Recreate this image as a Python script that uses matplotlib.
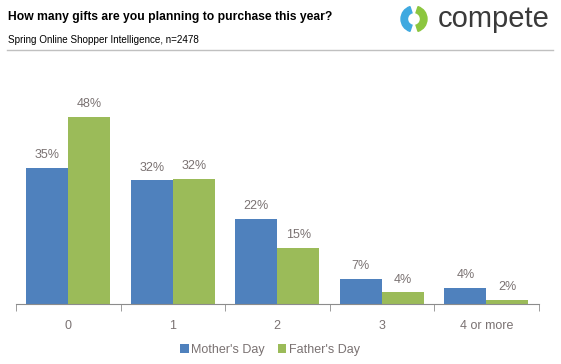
import matplotlib
matplotlib.use('Agg')
import matplotlib.pyplot as plt
from matplotlib.patches import Wedge
import numpy as np

plt.rcParams['font.family'] = ['Liberation Sans', 'DejaVu Sans']

# data
categories = ['0', '1', '2', '3', '4 or more']
mothers = [34.9, 31.7, 21.9, 6.5, 4.2]
fathers = [48.0, 32.1, 14.5, 3.1, 1.1]
mothers_lbl = ['35%', '32%', '22%', '7%', '4%']
fathers_lbl = ['48%', '32%', '15%', '4%', '2%']

blue = '#4F81BD'
green = '#9BBB59'
txt = '#7a7272'

W, H = 561, 364
fig = plt.figure(figsize=(W / 100, H / 100), dpi=100)

ax = fig.add_axes([16 / W, (H - 304.3) / H, 522.5 / W, 234.6 / H])
x = np.arange(len(categories))
bw = 0.40
ax.bar(x - bw / 2, mothers, bw, color=blue, label="Mother's Day")
ax.bar(x + bw / 2, fathers, bw, color=green, label="Father's Day")
for i in range(len(categories)):
    ax.text(x[i] - bw / 2, mothers[i] + 1.7, mothers_lbl[i], ha='center', va='bottom',
            fontsize=9, color=txt)
    ax.text(x[i] + bw / 2, fathers[i] + 1.7, fathers_lbl[i], ha='center', va='bottom',
            fontsize=9, color=txt)

ax.set_xlim(-0.5, len(categories) - 0.5)
ax.set_ylim(0, 60)
ax.set_xticks(x)
ax.set_xticklabels(categories, fontsize=9, color=txt)
ax.set_xticks(np.arange(-0.5, len(categories)), minor=True)
ax.tick_params(axis='x', which='major', length=0, pad=11)
ax.tick_params(axis='x', which='minor', length=5, color='#8c8c8c', direction='out')
ax.set_yticks([])
for s in ['top', 'right', 'left']:
    ax.spines[s].set_visible(False)
ax.spines['bottom'].set_color('#8c8c8c')

# title block
fig.text(8 / W, 1 - 17 / H, 'How many gifts are you planning to purchase this year?',
         fontsize=8.7, fontweight='bold', va='center', ha='left', color='black')
fig.text(8 / W, 1 - 40 / H, 'Spring Online Shopper Intelligence, n=2478',
         fontsize=7.1, va='center', ha='left', color='black')
fig.add_artist(plt.Line2D([7 / W, 553 / W], [1 - 50 / H, 1 - 50 / H],
                          color='#c0c0c0', lw=1))

# logo
lax = fig.add_axes([394 / W, 1 - 34 / H, 40 / W, 30 / H])
lax.set_xlim(-20, 20)
lax.set_ylim(-15, 15)
lax.set_aspect('equal')
lax.axis('off')
lax.add_patch(Wedge((0, 0), 13, 108, 252, width=6.5, color='#3fa9e0'))
lax.add_patch(Wedge((0, 0), 13, -72, 72, width=6.5, color='#8cc63f'))
fig.text(438 / W, 1 - 19 / H, 'compete', fontsize=21, color='#3a3a3a',
         va='center', ha='left')

fig.legend(loc='center', bbox_to_anchor=(270 / W, 1 - 350 / H), ncol=2, frameon=False,
           fontsize=9, handlelength=0.7, handleheight=0.7, handletextpad=0.2,
           columnspacing=1.0, labelcolor=txt)

fig.savefig('out.png', dpi=100)
